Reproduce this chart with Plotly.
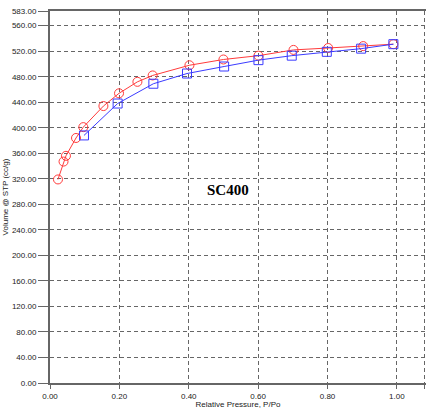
import plotly.graph_objects as go

# Adsorption (red circles)
ads_p = [0.023, 0.039, 0.046, 0.075, 0.096, 0.154, 0.199, 0.252, 0.296,
         0.402, 0.500, 0.601, 0.702, 0.802, 0.903, 0.990]
ads_v = [319, 347, 356, 384, 401, 434, 454, 472, 482,
         498, 507, 513, 522, 525, 528, 531]

# Desorption (blue squares)
des_p = [0.098, 0.195, 0.298, 0.395, 0.502, 0.601, 0.697, 0.798, 0.897, 0.990]
des_v = [388, 438, 469, 485, 496, 506, 513, 519, 524, 531]

y_ticks = [0, 40, 80, 120, 160, 200, 240, 280, 320, 360, 400, 440, 480, 520, 560, 583]
x_ticks = [0.0, 0.2, 0.4, 0.6, 0.8, 1.0, 1.08]

fig = go.Figure()
fig.add_trace(go.Scatter(
    x=ads_p, y=ads_v, mode="lines+markers",
    line=dict(color="#ff3b3b", width=1),
    marker=dict(symbol="circle-open", size=9, color="#ff3b3b", line=dict(width=1)),
    showlegend=False, cliponaxis=False))
fig.add_trace(go.Scatter(
    x=des_p, y=des_v, mode="lines+markers",
    line=dict(color="#3b3bff", width=1),
    marker=dict(symbol="square-open", size=9, color="#3b3bff", line=dict(width=1)),
    showlegend=False, cliponaxis=False))

fig.add_annotation(x=0.513, y=302, text="<b>SC400</b>", showarrow=False,
                   font=dict(family="Liberation Serif", size=15, color="#000"))

tickfont = dict(family="Liberation Sans, Arial", size=8, color="#222")
fig.update_xaxes(
    range=[0, 1.084], tickvals=x_ticks, ticktext=["%.2f" % v for v in x_ticks],
    tickfont=tickfont, showgrid=True, gridcolor="#666", griddash="4px,3px", gridwidth=1,
    zeroline=False, showline=True, linecolor="#666", linewidth=2, mirror=True,
    ticks="outside", ticklen=4, tickcolor="#666",
    title=dict(text="Relative Pressure, P/Po", font=dict(family="Liberation Sans, Arial", size=8, color="#222"), standoff=4),
)
fig.update_yaxes(
    range=[0, 583], tickvals=y_ticks, ticktext=["%.2f" % v for v in y_ticks],
    tickfont=tickfont, showgrid=True, gridcolor="#666", griddash="4px,3px", gridwidth=1,
    zeroline=False, showline=True, linecolor="#666", linewidth=2,
    ticks="outside", ticklen=10, tickcolor="#666",
    title=dict(text="Volume @ STP (cc/g)", font=dict(family="Liberation Sans, Arial", size=8, color="#222"), standoff=2),
)
fig.update_layout(
    width=426, height=409, margin=dict(l=50, r=0, t=11, b=26),
    paper_bgcolor="white", plot_bgcolor="white",
)
fig.write_html("out.html")
